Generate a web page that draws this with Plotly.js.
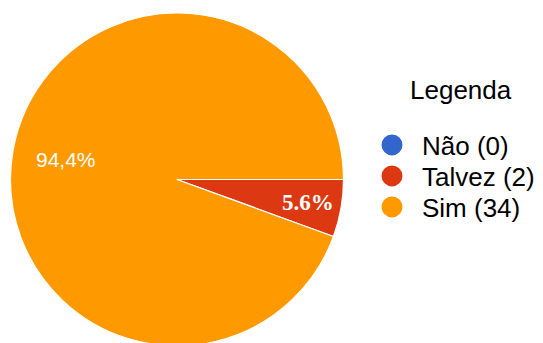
<!DOCTYPE html>
<html>
<head>
<meta charset="utf-8">
<script src="https://cdn.plot.ly/plotly-3.0.1.min.js"></script>
<style>
html,body{margin:0;padding:0;overflow:hidden;background:#fff;}
#chart{width:543px;height:350px;}
</style>
</head>
<body>
<div id="chart"></div>
<script>
// Data
var categories = ['Não', 'Talvez', 'Sim'];
var counts = [0, 2, 34];
var sliceLabels = ['0%', '5.6%', '94,4%'];
var colors = ['#3366CC', '#DC3912', '#FF9900'];
var legendTitle = 'Legenda';

// Geometry (pixels)
var W = 543, H = 350, mT = 13, mB = 4;
var plotH = H - mT - mB;
var cxPx = 177, R = plotH / 2, cyPx = mT + R;
function px2x(px) { return px / W; }
function py2y(py) { return (H - mB - py) / plotH; }

var pie = {
  type: 'pie',
  labels: categories,
  values: counts,
  textinfo: 'none',
  sort: false,
  direction: 'clockwise',
  rotation: 90,
  marker: {colors: colors, line: {color: '#ffffff', width: 1.2}},
  showlegend: false,
  hoverinfo: 'label+value+percent',
  domain: {x: [px2x(cxPx - R), px2x(cxPx + R)], y: [0, 1]}
};

var legendIds = ['legend', 'legend2', 'legend3'];
var legendRowsPx = [145, 176, 207];
var traces = [pie];
for (var i = 0; i < categories.length; i++) {
  traces.push({
    type: 'scatter',
    mode: 'markers',
    x: [null], y: [null],
    name: categories[i] + ' (' + counts[i] + ')',
    legend: legendIds[i],
    marker: {color: colors[i], size: 16, symbol: 'circle', line: {color: colors[i], width: 5}},
    showlegend: true,
    hoverinfo: 'skip'
  });
}

// Slice labels placed at each slice's mid-angle (computed from the values)
var total = counts.reduce(function (a, b) { return a + b; }, 0);
var labelRadius = [0.8, 0.8, 0.68];
var labelFonts = [
  {family: 'Liberation Sans, Arial, sans-serif', size: 21, color: '#ffffff'},
  {family: 'Liberation Serif, Times New Roman, serif', size: 23, color: '#ffffff', weight: 'bold'},
  {family: 'Liberation Sans, Arial, sans-serif', size: 21, color: '#ffffff'}
];
var annotations = [];
var cum = 0;
for (var j = 0; j < counts.length; j++) {
  var frac = counts[j] / total;
  if (frac > 0) {
    var mid = (cum + frac / 2) * 2 * Math.PI; // clockwise from 3 o'clock
    var lx = cxPx + Math.cos(mid) * R * labelRadius[j];
    var ly = cyPx + Math.sin(mid) * R * labelRadius[j];
    annotations.push({
      xref: 'paper', yref: 'paper',
      x: px2x(lx), y: py2y(ly),
      xanchor: 'center', yanchor: 'middle',
      text: sliceLabels[j], showarrow: false,
      font: labelFonts[j]
    });
  }
  cum += frac;
}
annotations.push({
  xref: 'paper', yref: 'paper',
  x: px2x(408), y: py2y(90),
  xanchor: 'left', yanchor: 'middle',
  text: legendTitle, showarrow: false,
  font: {family: 'Liberation Sans, Arial, sans-serif', size: 26, color: '#000000'}
});

var layout = {
  width: W, height: H,
  margin: {l: 0, r: 0, t: mT, b: mB},
  paper_bgcolor: '#ffffff', plot_bgcolor: '#ffffff',
  xaxis: {visible: false, domain: [0.99, 1]},
  yaxis: {visible: false},
  showlegend: true,
  annotations: annotations
};
for (var k = 0; k < legendIds.length; k++) {
  layout[legendIds[k]] = {
    x: px2x(362), xanchor: 'left',
    y: py2y(legendRowsPx[k]), yanchor: 'middle',
    bgcolor: 'rgba(0,0,0,0)',
    font: {family: 'Liberation Sans, Arial, sans-serif', size: 26, color: '#000000'},
    itemwidth: 50
  };
}

Plotly.newPlot('chart', traces, layout, {displayModeBar: false, staticPlot: true});
</script>
</body>
</html>
